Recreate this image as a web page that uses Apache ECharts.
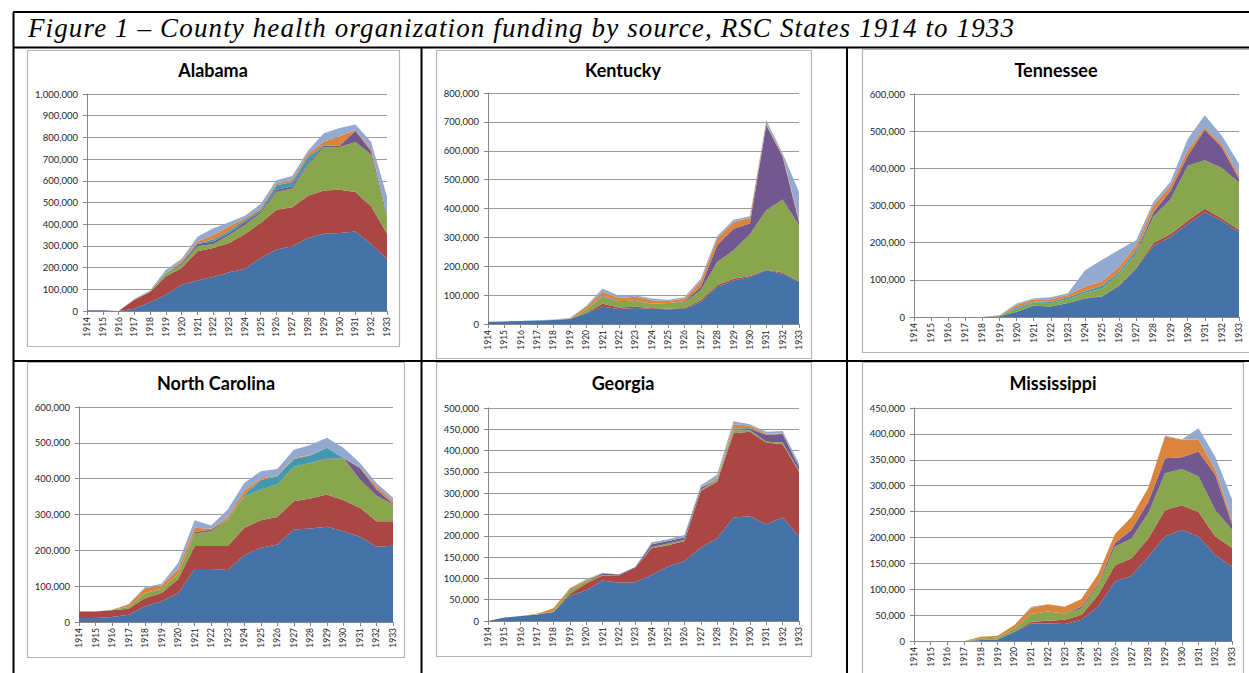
<!DOCTYPE html>
<html>
<head>
<meta charset="utf-8">
<script src="https://cdn.jsdelivr.net/npm/echarts@6/dist/echarts.min.js"></script>
<style>
html,body{margin:0;padding:0;background:#fff;width:1249px;height:673px;overflow:hidden;}
#chart{position:absolute;left:0;top:0;width:1249px;height:673px;}
#fig{position:absolute;left:28px;top:15px;font-family:"Liberation Serif";font-style:italic;font-size:27px;line-height:27px;white-space:nowrap;color:#000;}
</style>
</head>
<body>
<div id="chart"></div>
<div id="fig">Figure 1 – County health organization funding by source, RSC States 1914 to 1933</div>
<script>
// ---------- DATA ----------
const years = ['1914','1915','1916','1917','1918','1919','1920','1921','1922','1923','1924','1925','1926','1927','1928','1929','1930','1931','1932','1933'];
const sourceNames = ['Source 1','Source 2','Source 3','Source 4','Source 5','Source 6','Source 7'];

const alabama = [
  [3000,3000,0,10000,40000,75000,121000,141000,157000,178000,195000,244000,283000,298000,336000,356000,359000,366000,309000,240000],
  [0,0,0,42000,48000,85000,77000,134000,133000,135000,160000,162000,184000,180000,195000,199000,200000,182000,173000,116000],
  [0,0,0,0,5000,15000,16000,23000,19000,36000,43000,46000,81000,86000,143000,199000,197000,231000,238000,76000],
  [0,0,0,0,0,0,7000,11000,11000,10000,11000,7000,11000,11000,8000,8000,6000,52000,16000,9000],
  [0,0,0,0,0,0,0,4000,10000,10000,10000,8000,20000,20000,28000,3000,0,0,0,0],
  [0,0,0,0,0,0,8000,9000,20000,20000,8000,8000,8000,10000,15000,16000,43000,3000,11000,0],
  [0,0,0,3000,3000,15000,12000,20000,31000,20000,12000,18000,15000,17000,15000,38000,38000,25000,32000,87000]
];
const kentucky = [
  [8000,9000,10000,12000,14000,17000,37000,60000,52000,55000,53000,51000,53000,76000,128000,151000,163000,186000,174000,146000],
  [0,0,0,0,0,0,2000,10000,5000,5000,2000,2000,2000,6000,6000,6000,3000,2000,4000,2000],
  [0,0,0,0,0,0,11000,25000,18000,20000,15000,20000,21000,35000,81000,98000,145000,206000,253000,194000],
  [0,0,0,0,0,0,0,2000,3000,2000,0,0,3000,11000,58000,75000,37000,294000,148000,11000],
  [0,0,0,0,0,0,0,2000,0,0,0,0,0,0,0,0,0,0,0,0],
  [0,0,0,0,0,2000,10000,13000,12000,12000,12000,7000,9000,18000,23000,23000,20000,4000,6000,7000],
  [0,0,0,1000,2000,2000,2000,11000,8000,6000,6000,4000,5000,11000,8000,8000,5000,14000,6000,97000]
];
const tennessee = [
  [0,0,0,0,0,2000,14000,30000,28000,38000,50000,55000,84000,131000,192000,216000,250000,282000,259000,228000],
  [0,0,0,0,0,0,0,0,0,0,1000,1000,2000,2000,7000,7000,9000,9000,6000,7000],
  [0,0,0,0,0,2000,9000,9000,10000,10000,14000,21000,30000,37000,72000,94000,148000,131000,136000,127000],
  [0,0,0,0,0,0,0,0,0,0,0,0,0,4000,11000,23000,27000,82000,55000,9000],
  [0,0,0,0,0,0,4000,2000,3000,5000,5000,7000,6000,7000,2000,0,0,0,0,0],
  [0,0,0,0,0,1000,5000,7000,7000,7000,12000,12000,14000,13000,17000,13000,14000,6000,8000,9000],
  [0,0,0,0,0,0,4000,2000,5000,4000,44000,58000,45000,13000,9000,11000,31000,33000,24000,32000]
];
const northCarolina = [
  [11000,11000,14000,20000,44000,58000,80000,148000,148000,145000,186000,207000,216000,258000,261000,266000,253000,238000,210000,213000],
  [18000,18000,19000,17000,23000,23000,39000,64000,64000,67000,77000,77000,77000,79000,84000,90000,87000,81000,71000,68000],
  [0,0,1000,5000,14000,12000,14000,35000,41000,74000,88000,86000,91000,96000,99000,99000,118000,79000,72000,47000],
  [0,0,0,0,0,0,0,4000,5000,0,0,0,0,0,0,2000,0,32000,17000,2000],
  [0,0,0,0,0,0,0,0,0,0,4000,26000,23000,22000,21000,29000,0,0,0,0],
  [0,0,0,6000,14000,9000,15000,12000,2000,7000,12000,4000,2000,3000,1000,0,0,2000,9000,7000],
  [0,0,0,2000,3000,5000,17000,21000,9000,21000,21000,21000,18000,23000,28000,28000,28000,12000,9000,10000]
];
const georgia = [
  [0,8000,12000,15000,21000,59000,72000,95000,90000,91000,108000,128000,141000,172000,194000,243000,246000,227000,243000,198000],
  [0,0,0,0,0,5000,16000,12000,17000,34000,63000,50000,47000,133000,133000,198000,198000,192000,172000,153000],
  [0,0,0,0,2000,8000,5000,1000,0,0,3000,4000,2000,3000,4000,7000,4000,2000,4000,2000],
  [0,0,0,0,0,2000,0,4000,2000,2000,6000,6000,6000,5000,0,0,3000,16000,20000,9000],
  [0,0,0,0,0,0,0,0,0,0,0,0,0,0,2000,4000,2000,0,0,0],
  [0,0,0,2000,7000,3000,3000,0,0,0,0,0,0,0,3000,10000,6000,2000,2000,0],
  [0,0,0,0,0,0,2000,1000,0,0,5000,4000,6000,5000,8000,7000,3000,5000,5000,8000]
];
const mississippi = [
  [0,0,0,0,2000,3000,18000,34000,34000,33000,41000,66000,115000,126000,163000,202000,215000,202000,166000,144000],
  [0,0,0,0,0,0,0,3000,5000,8000,9000,23000,31000,34000,35000,51000,47000,47000,36000,36000],
  [0,0,0,0,3000,4000,6000,15000,18000,12000,13000,19000,36000,38000,49000,71000,70000,69000,51000,35000],
  [0,0,0,0,0,0,0,0,0,0,3000,3000,7000,17000,22000,29000,23000,48000,68000,11000],
  [0,0,0,0,0,0,0,0,0,0,0,0,0,0,0,0,0,0,0,0],
  [0,0,0,0,3000,3000,7000,12000,14000,13000,15000,18000,17000,25000,27000,42000,34000,23000,10000,8000],
  [0,0,0,0,0,0,0,2000,0,0,0,0,0,0,0,2000,0,22000,25000,40000]
];

const stateNames = ['Alabama','Kentucky','Tennessee','North Carolina','Georgia','Mississippi'];
const stateData = [alabama, kentucky, tennessee, northCarolina, georgia, mississippi];
const axisMax = [1000000, 800000, 600000, 600000, 500000, 450000];
const axisStep = [100000, 100000, 100000, 100000, 50000, 50000];

// ---------- STYLE / LAYOUT ----------
const colors = ['#4572A7','#AA4643','#89A54E','#71588F','#4198AF','#DB843D','#93A9CF'];
const layout = [
  {grid:[87,94,300,217],  frame:[27,50,372,296],  title:[213,70]},
  {grid:[488,93,311,231], frame:[436,50,375,308], title:[623,70]},
  {grid:[914,94,325,223], frame:[862,49,392,303], title:[1056,70]},
  {grid:[79,407,314,215], frame:[27,362,377,295], title:[216,383]},
  {grid:[488,408,311,213],frame:[436,362,375,294],title:[623,383]},
  {grid:[914,408,318,233],frame:[862,362,381,320],title:[1053,383]}
];

// fit the figure caption width to the reference
(function(){
  const el = document.getElementById('fig');
  const c = document.createElement('canvas').getContext('2d');
  c.font = 'italic 27px "Liberation Serif"';
  const txt = el.textContent;
  const w = c.measureText(txt).width;
  const target = 987;
  el.style.letterSpacing = ((target - w) / txt.length).toFixed(3) + 'px';
})();

const chart = echarts.init(document.getElementById('chart'), null, {renderer:'svg'});
const grids = [], xAxes = [], yAxes = [], series = [], graphics = [];
const fmt = v => Number(v).toLocaleString('en-US');

layout.forEach((p, i) => {
  grids.push({left:p.grid[0], top:p.grid[1], width:p.grid[2], height:p.grid[3], containLabel:false, outerBoundsMode:'none'});
  xAxes.push({
    type:'category', gridIndex:i, data:years, boundaryGap:false,
    axisLine:{show:true, lineStyle:{color:'#868686', width:1}},
    axisTick:{show:true, length:4, inside:false, lineStyle:{color:'#868686'}},
    axisLabel:{rotate:90, interval:0, fontSize:8.5, fontFamily:'Lato', color:'#262626', margin:6},
    splitLine:{show:false}
  });
  yAxes.push({
    type:'value', gridIndex:i, min:0, max:axisMax[i], interval:axisStep[i],
    axisLine:{show:true, lineStyle:{color:'#868686', width:1}},
    axisTick:{show:true, length:4, inside:false, lineStyle:{color:'#868686'}},
    axisLabel:{fontSize:9.5, fontFamily:'Lato', color:'#262626', margin:9, formatter:fmt},
    splitLine:{show:true, lineStyle:{color:'#9a9a9a', width:1}}
  });
  stateData[i].forEach((vals, k) => {
    series.push({
      name:sourceNames[k], type:'line', xAxisIndex:i, yAxisIndex:i, stack:'s'+i,
      data:vals, symbol:'none', showSymbol:false, silent:true,
      lineStyle:{width:0}, areaStyle:{color:colors[k], opacity:1},
      itemStyle:{color:colors[k]}, z:2
    });
  });
  graphics.push({type:'rect', shape:{x:p.frame[0]+0.5, y:p.frame[1]+0.5, width:p.frame[2], height:p.frame[3]},
    style:{fill:'none', stroke:'#b4b4b4', lineWidth:1.2}, z:1, silent:true});
  graphics.push({type:'text', x:p.title[0], y:p.title[1],
    style:{text:stateNames[i], fontFamily:'Lato', fontWeight:'bold', fontSize:18, fill:'#000', align:'center', verticalAlign:'middle'}, z:5, silent:true});
});

// table rules
const rules = [
  [13,12,1249,12],[13,47.5,1249,47.5],[13.5,12,13.5,673],
  [13,361,1249,361],[421.5,47,421.5,673],[847,47,847,673]
];
rules.forEach(r => graphics.push({type:'line', shape:{x1:r[0], y1:r[1], x2:r[2], y2:r[3]}, style:{stroke:'#000', lineWidth:2}, z:10, silent:true}));

chart.setOption({
  animation:false,
  color:colors,
  grid:grids, xAxis:xAxes, yAxis:yAxes, series:series,
  graphic:{elements:graphics}
});
</script>
</body>
</html>
